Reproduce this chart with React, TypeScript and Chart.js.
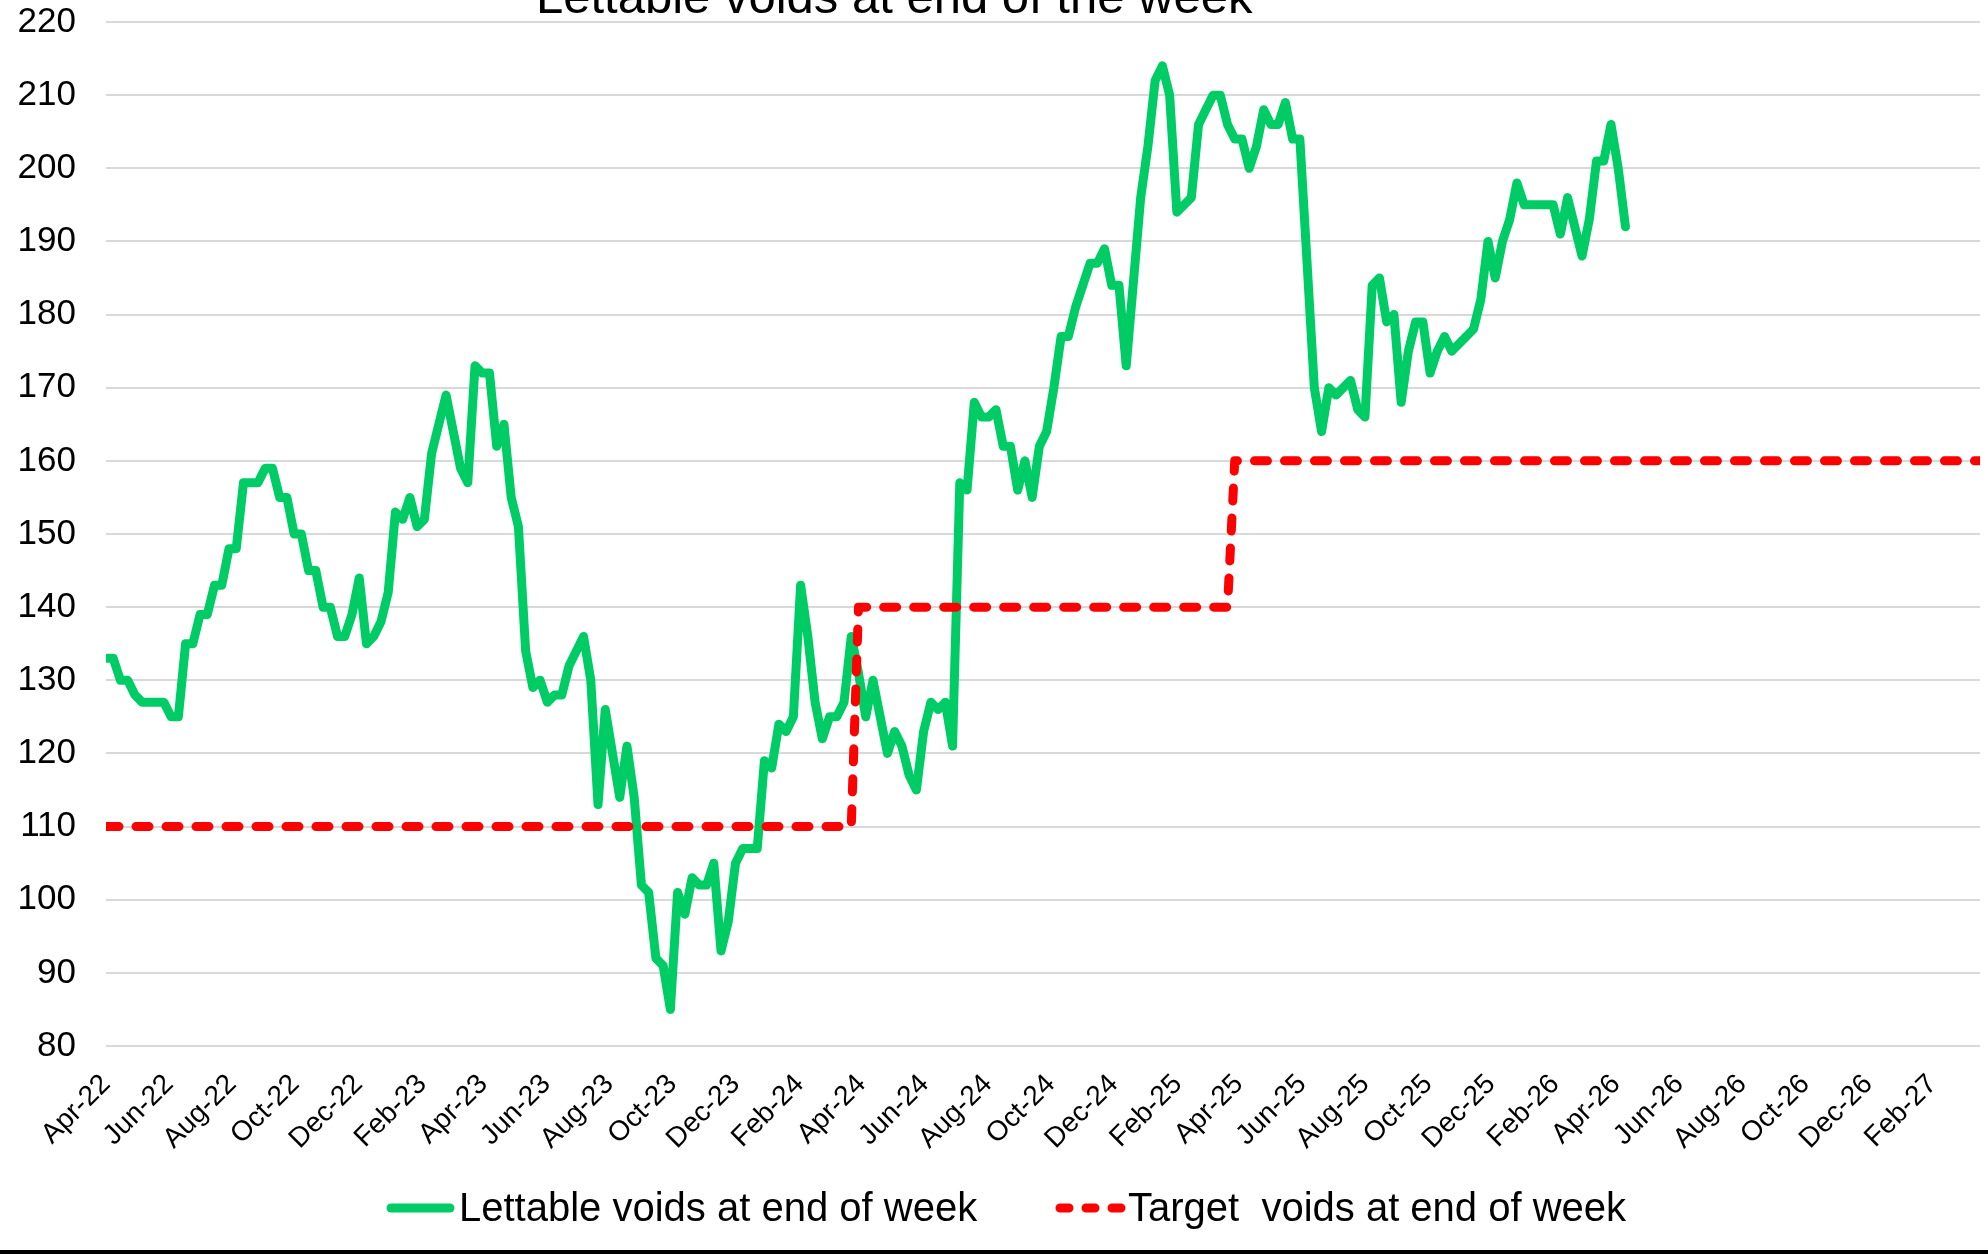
import React, { useEffect, useRef } from 'react';
import { Chart, registerables } from 'chart.js';

Chart.register(...registerables);

const FONT = '"Liberation Sans", Arial, sans-serif';

const titleText = 'Lettable voids at end of the week';
const seriesNames = ['Lettable voids at end of week', 'Target  voids at end of week'];

const tickLabels = [
  'Apr-22', 'Jun-22', 'Aug-22', 'Oct-22', 'Dec-22', 'Feb-23', 'Apr-23', 'Jun-23', 'Aug-23', 'Oct-23',
  'Dec-23', 'Feb-24', 'Apr-24', 'Jun-24', 'Aug-24', 'Oct-24', 'Dec-24', 'Feb-25', 'Apr-25', 'Jun-25',
  'Aug-25', 'Oct-25', 'Dec-25', 'Feb-26', 'Apr-26', 'Jun-26', 'Aug-26', 'Oct-26', 'Dec-26', 'Feb-27',
];
// position of each tick in weeks since 1 Apr 2022
const tickWeeks = tickLabels.map(
  (_, i) => (Date.UTC(2022, 3 + 2 * i, 1) - Date.UTC(2022, 3, 1)) / 86400000 / 7
);
const axisEndWeek = 259;

// weekly lettable voids (week index since 1 Apr 2022)
const lettableWeeks = [
  0, 1, 2, 3, 4, 5, 8, 9, 10, 11, 12, 13, 14, 15, 16, 17, 18, 19, 21, 22,
  23, 24, 25, 26, 27, 28, 29, 30, 31, 32, 33, 34, 35, 36, 37, 38, 39, 40, 41, 42,
  43, 44, 45, 46, 47, 48, 49, 50, 51, 52, 53, 54, 55, 56, 57, 58, 59, 60, 61, 62,
  63, 64, 66, 67, 68, 69, 71, 72, 73, 74, 75, 76, 77, 78, 79, 80, 81, 82, 83, 84,
  85, 86, 87, 88, 90, 91, 92, 93, 94, 95, 96, 97, 98, 99, 100, 101, 102, 103, 104, 105,
  106, 108, 109, 110, 111, 112, 113, 114, 115, 116, 117, 118, 119, 120, 121, 122, 123, 124, 125, 126,
  127, 128, 129, 130, 131, 132, 133, 134, 136, 137, 138, 139, 140, 141, 143, 144, 145, 146, 147, 148,
  149, 150, 151, 152, 153, 154, 155, 156, 157, 158, 159, 160, 161, 162, 163, 164, 165, 167, 168, 169,
  170, 172, 173, 174, 175, 176, 177, 178, 179, 180, 181, 182, 183, 184, 185, 186, 189, 190, 191, 192,
  193, 194, 195, 196, 200, 201, 202, 203, 204, 205, 206, 207, 208, 209, 210,
];
const lettableValues = [
  133, 133, 130, 130, 128, 127, 127, 125, 125, 135, 135, 139, 139, 143, 143, 148, 148, 157, 157, 159,
  159, 155, 155, 150, 150, 145, 145, 140, 140, 136, 136, 139, 144, 135, 136, 138, 142, 153, 152, 155,
  151, 152, 161, 165, 169, 164, 159, 157, 173, 172, 172, 162, 165, 155, 151, 134, 129, 130, 127, 128,
  128, 132, 136, 130, 113, 126, 114, 121, 114, 102, 101, 92, 91, 85, 101, 98, 103, 102, 102, 105,
  93, 97, 105, 107, 107, 119, 118, 124, 123, 125, 143, 136, 127, 122, 125, 125, 127, 136, 131, 125,
  130, 120, 123, 121, 117, 115, 123, 127, 126, 127, 121, 157, 156, 168, 166, 166, 167, 162, 162, 156,
  160, 155, 162, 164, 170, 177, 177, 181, 187, 187, 189, 184, 184, 173, 196, 203, 212, 214, 210, 194,
  195, 196, 206, 208, 210, 210, 206, 204, 204, 200, 203, 208, 206, 206, 209, 204, 204, 170, 164, 170,
  169, 171, 167, 166, 184, 185, 179, 180, 168, 175, 179, 179, 172, 175, 177, 175, 178, 182, 190, 185,
  190, 193, 198, 195, 195, 191, 196, 192, 188, 193, 201, 201, 206, 200, 192,
];

const targetWeeks = [0, 103, 104, 155, 156, 259];
const targetValues = [110, 110, 140, 140, 160, 160];

const GREEN = '#00CC66';
const RED = '#FF0000';

export default function App() {
  const canvasRef = useRef<HTMLCanvasElement | null>(null);

  useEffect(() => {
    document.body.style.margin = '0';
    const canvas = canvasRef.current;
    if (!canvas) return;
    Chart.defaults.font.family = FONT;

    const overlay = {
      id: 'overlay',
      afterDraw(chart: any) {
        const ctx = chart.ctx;
        ctx.save();
        // title (partly cut off at top, as in the reference)
        ctx.fillStyle = '#000';
        ctx.font = `49px ${FONT}`;
        ctx.textAlign = 'left';
        ctx.textBaseline = 'alphabetic';
        ctx.fillText(titleText, 536, 13);

        // legend
        const ly = 1208;
        ctx.lineWidth = 9;
        ctx.lineCap = 'round';
        ctx.strokeStyle = GREEN;
        ctx.beginPath();
        ctx.moveTo(391, ly);
        ctx.lineTo(450, ly);
        ctx.stroke();
        ctx.strokeStyle = RED;
        ctx.setLineDash([9, 17]);
        ctx.beginPath();
        ctx.moveTo(1060, ly);
        ctx.lineTo(1121, ly);
        ctx.stroke();
        ctx.setLineDash([]);
        ctx.font = `40px ${FONT}`;
        ctx.fillStyle = '#000';
        ctx.fillText(seriesNames[0], 459, 1221);
        ctx.fillText(seriesNames[1], 1128, 1221);

        // frame line at the bottom
        ctx.fillStyle = '#000';
        ctx.fillRect(0, 1250, chart.width, 4);
        ctx.restore();
      },
    };

    const chart = new Chart(canvas, {
      type: 'line',
      data: {
        datasets: [
          {
            label: seriesNames[0],
            data: lettableWeeks.map((w, i) => ({ x: w, y: lettableValues[i] })),
            borderColor: GREEN,
            backgroundColor: GREEN,
            borderWidth: 9,
            borderJoinStyle: 'round',
            borderCapStyle: 'round',
            pointRadius: 0,
            tension: 0,
            order: 1,
          },
          {
            label: seriesNames[1],
            data: targetWeeks.map((w, i) => ({ x: w, y: targetValues[i] })),
            borderColor: RED,
            backgroundColor: RED,
            borderWidth: 9,
            borderDash: [13, 17],
            borderJoinStyle: 'round',
            borderCapStyle: 'round',
            pointRadius: 0,
            tension: 0,
            order: 0,
          },
        ],
      },
      options: {
        responsive: false,
        animation: false,
        events: [],
        layout: { padding: { left: 0, right: 8, top: 22, bottom: 0 } },
        plugins: {
          legend: { display: false },
          title: { display: false },
          tooltip: { enabled: false },
        },
        scales: {
          x: {
            type: 'linear',
            min: 0,
            max: axisEndWeek,
            grid: { display: false },
            border: { display: false },
            afterBuildTicks: (scale: any) => {
              scale.ticks = tickWeeks.map((v) => ({ value: v }));
            },
            afterFit: (scale: any) => {
              scale.height = 209;
              scale.paddingLeft = 0;
              scale.paddingRight = 0;
            },
            ticks: {
              autoSkip: false,
              maxRotation: 45,
              minRotation: 45,
              padding: 14,
              color: '#000',
              font: { size: 28, family: FONT },
              callback: (_v: any, i: number) => tickLabels[i],
            },
          },
          y: {
            min: 80,
            max: 220,
            afterFit: (scale: any) => {
              scale.width = 106;
              scale.paddingTop = 0;
              scale.paddingBottom = 0;
            },
            ticks: {
              stepSize: 10,
              padding: 30,
              color: '#000',
              font: { size: 35, family: FONT },
            },
            grid: { color: '#d9d9d9', lineWidth: 2, drawTicks: false },
            border: { display: false },
          },
        },
      },
      plugins: [overlay],
    } as any);

    return () => chart.destroy();
  }, []);

  return (
    <div style={{ width: 1988, height: 1255, position: 'relative', background: '#fff' }}>
      <canvas ref={canvasRef} width={1988} height={1255} style={{ display: 'block' }} />
    </div>
  );
}
